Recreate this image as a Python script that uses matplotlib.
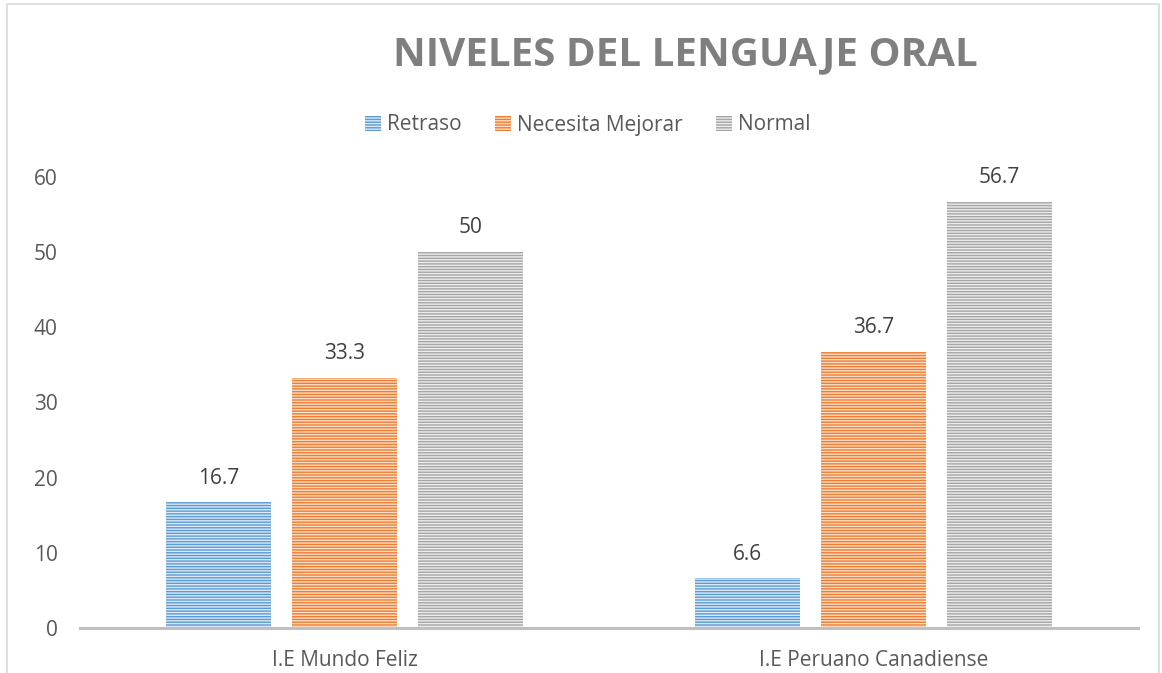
import numpy as np
import matplotlib
matplotlib.use("Agg")
import matplotlib.pyplot as plt
from matplotlib.patches import Rectangle

plt.rcParams['font.family'] = ['Open Sans', 'DejaVu Sans']
plt.rcParams['hatch.linewidth'] = 1.0

# data
schools = ["I.E Mundo Feliz", "I.E Peruano Canadiense"]
series = ["Retraso", "Necesita Mejorar", "Normal"]
retraso = [16.7, 6.6]
mejorar = [33.3, 36.7]
normal = [50, 56.7]
labels = ["16.7", "6.6", "33.3", "36.7", "50", "56.7"]

colors = ["#5B9BD5", "#ED7D31", "#A5A5A5"]
stripes = ["#dbe8f6", "#fbdcc6", "#ececec"]

fig = plt.figure(figsize=(11.62, 6.73), dpi=100)
# outer chart frame
fig.patches.append(Rectangle((7/1162, -0.05), 1152/1162, 1 - 4/673 + 0.05,
                             transform=fig.transFigure, fill=False,
                             edgecolor="#d9d9d9", linewidth=1.2))

ax = fig.add_axes([80/1162, 45/673, 1058/1162, 451/673])

x = np.arange(len(schools))
w = 0.198
step = 0.238
vals = [retraso, mejorar, normal]
bars = []
for i, (v, c, s, name) in enumerate(zip(vals, colors, stripes, series)):
    b = ax.bar(x + (i - 1) * step, v, w, color=c, edgecolor=s, linewidth=0,
               hatch="------", label=name)
    bars.append(b)

k = 0
for b in bars:
    for rect in b:
        ax.annotate(labels[k], (rect.get_x() + rect.get_width() / 2, rect.get_height()),
                    xytext=(0, 17.5), textcoords="offset points",
                    ha="center", va="center", fontsize=15, color="#404040")
        k += 1

ax.set_xlim(-0.5, 1.5)
ax.set_ylim(0, 60)
ax.set_yticks(range(0, 61, 10))
ax.set_xticks(x)
ax.set_xticklabels(schools)
for sp in ["top", "right", "left"]:
    ax.spines[sp].set_visible(False)
ax.spines["bottom"].set_color("#bfbfbf")
ax.spines["bottom"].set_linewidth(2.2)
ax.tick_params(axis="both", length=0, labelsize=15, labelcolor="#595959")
ax.tick_params(axis="y", pad=16)
ax.tick_params(axis="x", pad=16)

fig.text(685/1162, 1 - 55/673, "NIVELES DEL LENGUAJE ORAL", ha="center", va="center",
         fontsize=29, fontweight="bold", color="#7f7f7f")

fig.legend(loc="center", bbox_to_anchor=(588/1162, 1 - 125/673), ncol=3,
           frameon=False, fontsize=15, handlelength=0.75, handleheight=0.75,
           handletextpad=0.3, columnspacing=1.6, labelcolor="#595959")

fig.savefig("out.png", dpi=100)
